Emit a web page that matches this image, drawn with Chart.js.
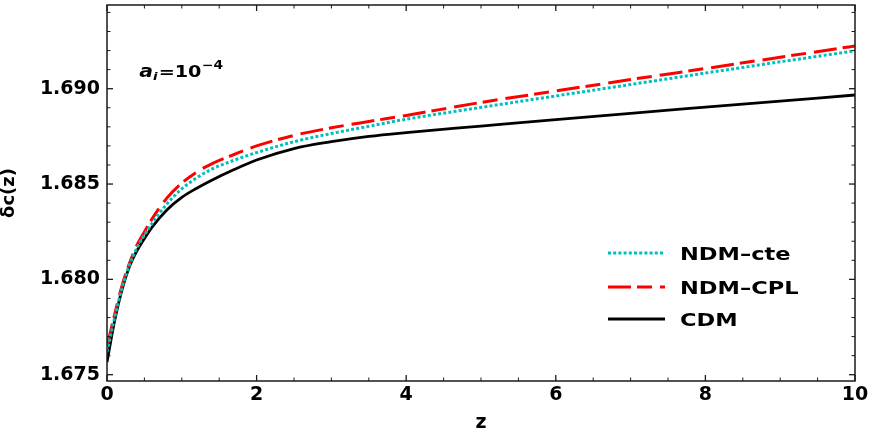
<!DOCTYPE html>
<html>
<head>
<meta charset="utf-8">
<script src="https://cdn.jsdelivr.net/npm/chart.js@4.4.1/dist/chart.umd.min.js"></script>
<style>
html,body{margin:0;padding:0;background:#fff;}
#wrap{width:872px;height:436px;position:relative;}
</style>
</head>
<body>
<div id="wrap"><canvas id="c" width="872" height="436"></canvas></div>
<script>
// ---- data ----
const zValues = [0, 0.1, 0.2, 0.3, 0.4, 0.5, 0.6, 0.8, 1.0, 1.2, 1.4, 1.7, 2.0, 2.5, 3.0, 3.5, 4, 5, 6, 7, 8, 9, 10];
const ndmCte  = [1.67620, 1.67795, 1.67955, 1.68075, 1.68165, 1.68232, 1.68293, 1.68395, 1.68475, 1.68533, 1.68578, 1.68625, 1.68665, 1.68722, 1.68765, 1.68803, 1.68840, 1.68902, 1.68962, 1.69022, 1.69082, 1.69141, 1.69199];
const ndmCpl  = [1.67650, 1.67812, 1.67966, 1.68084, 1.68179, 1.68249, 1.68316, 1.68426, 1.68505, 1.68563, 1.68606, 1.68655, 1.68700, 1.68755, 1.68795, 1.68828, 1.68860, 1.68928, 1.68988, 1.69048, 1.69106, 1.69165, 1.69224];
const cdm     = [1.67565, 1.67779, 1.67945, 1.68068, 1.68150, 1.68214, 1.68273, 1.68364, 1.68430, 1.68478, 1.68520, 1.68576, 1.68626, 1.68686, 1.68722, 1.68750, 1.68770, 1.68804, 1.68838, 1.68871, 1.68903, 1.68935, 1.68967];
const seriesLabels = ['NDM–cte', 'NDM–CPL', 'CDM'];
const xTickValues = [0, 2, 4, 6, 8, 10];
const yTickValues = [1.675, 1.680, 1.685, 1.690];
const xMinorStep = 0.5;
const yMinorStep = 0.001;
const xRange = [0, 10];
const yRange = [1.67467, 1.69439];
const annotationAt = {x: 0.43, y: 1.69063};

const FONT = 'DejaVu Sans';
const toPts = arr => arr.map((v, i) => ({x: zValues[i], y: v}));

const datasets = [
  {label: seriesLabels[0], data: toPts(ndmCte), borderColor: '#00bfbf', borderWidth: 3, borderDash: [3, 2.2], borderCapStyle: 'butt'},
  {label: seriesLabels[1], data: toPts(ndmCpl), borderColor: '#ff0000', borderWidth: 3, borderDash: [23, 6, 15, 8], borderCapStyle: 'butt'},
  {label: seriesLabels[2], data: toPts(cdm), borderColor: '#000000', borderWidth: 2.8, borderDash: []}
].map(d => Object.assign(d, {pointRadius: 0, fill: false, cubicInterpolationMode: 'monotone'}));

const framePlugin = {
  id: 'frame',
  afterDraw(chart) {
    const {ctx, chartArea: a, scales: {x, y}} = chart;
    ctx.save();
    const seg = (x1, y1, x2, y2) => { ctx.beginPath(); ctx.moveTo(x1, y1); ctx.lineTo(x2, y2); ctx.stroke(); };
    ctx.strokeStyle = '#1a1a1a';
    const isMajor = (v, list) => list.some(t => Math.abs(t - v) < 1e-9);
    for (let k = 0; ; k++) {
      const v = xRange[0] + k * xMinorStep;
      if (v > xRange[1] + 1e-9) break;
      const major = isMajor(v, xTickValues);
      const len = major ? 6 : 3.5;
      ctx.lineWidth = major ? 1.3 : 1;
      const p = x.getPixelForValue(v);
      seg(p, a.bottom, p, a.bottom - len);
      seg(p, a.top, p, a.top + len);
    }
    for (let k = -5; ; k++) {
      const v = 1.675 + k * yMinorStep;
      if (v > yRange[1] + 1e-9) break;
      if (v < yRange[0]) continue;
      const major = isMajor(v, yTickValues);
      const len = major ? 6 : 3.5;
      ctx.lineWidth = major ? 1.3 : 1;
      const p = y.getPixelForValue(v);
      seg(a.left, p, a.left + len, p);
      seg(a.right, p, a.right - len, p);
    }
    ctx.lineWidth = 1.5;
    ctx.strokeRect(a.left, a.top, a.right - a.left, a.bottom - a.top);

    // annotation  a_i = 10^-4
    ctx.fillStyle = '#000';
    ctx.textBaseline = 'alphabetic';
    const ax = x.getPixelForValue(annotationAt.x), ay = y.getPixelForValue(annotationAt.y);
    ctx.save();
    ctx.translate(ax, ay);
    ctx.scale(1.2, 1);
    let cx = 0;
    ctx.font = `italic bold 17px "${FONT}"`;
    ctx.fillText('a', cx, 0); cx += ctx.measureText('a').width;
    ctx.font = `italic bold 11px "${FONT}"`;
    ctx.fillText('i', cx, 3); cx += ctx.measureText('i').width + 1;
    ctx.font = `bold 16px "${FONT}"`;
    ctx.fillText('=10', cx, 0); cx += ctx.measureText('=10').width + 0.5;
    ctx.font = `bold 11.5px "${FONT}"`;
    ctx.fillText('\u22124', cx, -7.5);
    ctx.restore();

    // legend
    const lx0 = a.right - 247, lx1 = a.right - 190, tx = a.right - 175;
    const rows = [a.bottom - 128, a.bottom - 94, a.bottom - 62];
    chart.data.datasets.forEach((ds, i) => {
      const cy = rows[i];
      ctx.save();
      ctx.strokeStyle = ds.borderColor;
      ctx.lineWidth = ds.borderWidth;
      ctx.setLineDash(ds.borderDash || []);
      ctx.lineCap = 'butt';
      seg(lx0, cy, lx1, cy);
      ctx.restore();
      ctx.save();
      ctx.translate(tx, cy + 6.6);
      ctx.scale(1.25, 1);
      ctx.font = `bold 18px "${FONT}"`;
      ctx.fillStyle = '#000';
      ctx.fillText(ds.label, 0, 0);
      ctx.restore();
    });
    ctx.restore();
  }
};

new Chart(document.getElementById('c'), {
  type: 'line',
  data: {datasets},
  options: {
    responsive: false,
    devicePixelRatio: 1,
    animation: false,
    layout: {padding: {left: 0, top: 5, right: 17, bottom: 0}},
    plugins: {legend: {display: false}, tooltip: {enabled: false}},
    scales: {
      x: {
        type: 'linear', min: xRange[0], max: xRange[1],
        afterBuildTicks: s => { s.ticks = xTickValues.map(v => ({value: v})); },
        afterFit: s => { s.height = 55; s.paddingLeft = 0; s.paddingRight = 0; },
        ticks: {font: {family: FONT, weight: 'bold', size: 19}, color: '#000', padding: 3, maxRotation: 0, autoSkip: false,
                callback: v => String(v)},
        grid: {display: false, drawTicks: false},
        border: {display: false},
        title: {display: true, text: 'z', color: '#000', font: {family: FONT, weight: 'bold', size: 19}, padding: {top: 0, bottom: 2}}
      },
      y: {
        type: 'linear', min: yRange[0], max: yRange[1],
        afterBuildTicks: s => { s.ticks = yTickValues.map(v => ({value: v})); },
        afterFit: s => { s.width = 107; s.paddingTop = 0; s.paddingBottom = 0; },
        ticks: {font: {family: FONT, weight: 'bold', size: 19}, color: '#000', padding: 7, autoSkip: false,
                callback: v => Number(v).toFixed(3)},
        grid: {display: false, drawTicks: false},
        border: {display: false},
        title: {display: true, text: 'δc(z)', color: '#000', font: {family: FONT, weight: 'bold', size: 18, lineHeight: 1.0}, padding: {top: 0, bottom: 0}}
      }
    }
  },
  plugins: [framePlugin]
});
</script>
</body>
</html>
